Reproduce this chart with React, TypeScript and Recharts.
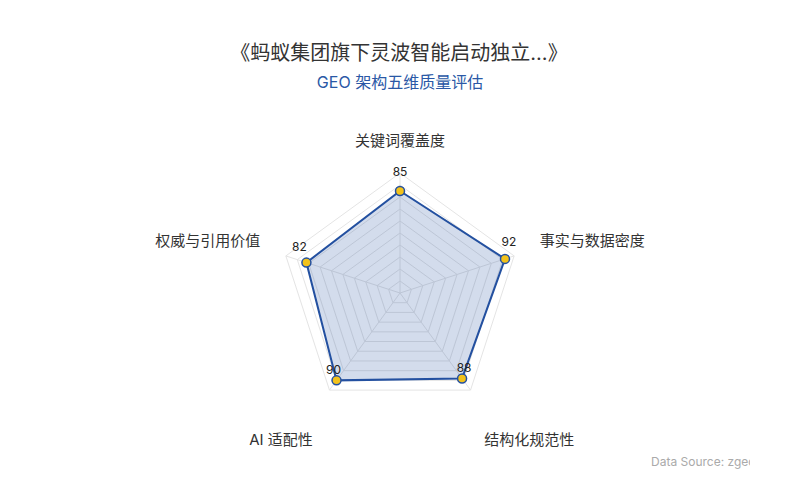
import React from 'react';
import { RadarChart, Radar, PolarGrid, PolarAngleAxis, PolarRadiusAxis, LabelList } from 'recharts';

const TITLE = '《蚂蚁集团旗下灵波智能启动独立...》';
const SUBTITLE = 'GEO 架构五维质量评估';
const SOURCE = 'Data Source: zgeo.ai';

const dimensions = ['关键词覆盖度', '事实与数据密度', '结构化规范性', 'AI 适配性', '权威与引用价值'];
const scores = [85, 92, 88, 90, 82];
const maxScore = 100;
const gridLevels = [10, 20, 30, 40, 50, 60, 70, 80, 90, 100];

const data = dimensions.map((d, i) => ({ dim: d, score: scores[i] }));

const FONT = "Inter, 'Noto Sans CJK SC', 'Noto Sans', sans-serif";
const CX = 400;
const CY = 293;
const R = 120;

// label placement tweaks (style only)
const tickOffsets = [
  { dx: 0, dy: -25, anchor: 'middle' },
  { dx: 18, dy: -13, anchor: 'start' },
  { dx: 9, dy: 43, anchor: 'start' },
  { dx: -12, dy: 43, anchor: 'end' },
  { dx: -18, dy: -13, anchor: 'end' },
];
const valueOffsets = [
  { dx: 0, dy: -20 },
  { dx: 4, dy: -17 },
  { dx: 2, dy: -11 },
  { dx: -3, dy: -11 },
  { dx: -7, dy: -16 },
];

const AngleTick = (props: any) => {
  const { x, y, payload, index } = props;
  const o = tickOffsets[index] || { dx: 0, dy: 0, anchor: 'middle' };
  return (
    <text
      x={x + o.dx}
      y={y + o.dy}
      textAnchor={o.anchor}
      dominantBaseline="central"
      fill="#333"
      fontSize={15}
      fontFamily={FONT}
    >
      {payload.value}
    </text>
  );
};

const ValueLabel = (props: any) => {
  const { x, y, value, index } = props;
  const o = valueOffsets[index] || { dx: 0, dy: -14 };
  return (
    <text
      x={x + o.dx}
      y={y + o.dy}
      textAnchor="middle"
      dominantBaseline="central"
      fill="#222"
      fontSize={12}
      fontFamily={FONT}
    >
      {value}
    </text>
  );
};

export default function App() {
  const radii = gridLevels.map((l) => (l / maxScore) * R);
  return (
    <div style={{ position: 'absolute', left: 0, top: 0, width: 800, height: 500, background: '#fff', fontFamily: FONT }}>
      <div style={{ position: 'absolute', left: 0, top: 40, width: 798, textAlign: 'center', fontSize: 20, color: '#333', lineHeight: '26px' }}>
        {TITLE}
      </div>
      <div style={{ position: 'absolute', left: 0, top: 72, width: 800, textAlign: 'center', fontSize: 16, color: '#2a58a6', lineHeight: '20px' }}>
        {SUBTITLE}
      </div>
      <RadarChart width={800} height={500} data={data} cx={CX} cy={CY} outerRadius={R} margin={{ top: 0, right: 0, bottom: 0, left: 0 }}>
        <PolarGrid gridType="polygon" polarRadius={radii} stroke="#e4e4e4" strokeWidth={1} />
        <PolarAngleAxis dataKey="dim" tick={<AngleTick />} tickLine={false} axisLine={false} />
        <PolarRadiusAxis domain={[0, maxScore]} tick={false} axisLine={false} tickCount={11} />
        <Radar
          dataKey="score"
          stroke="#2350a0"
          strokeWidth={2}
          fill="#2350a0"
          fillOpacity={0.2}
          dot={{ r: 4.5, fill: '#f2c21b', stroke: '#2350a0', strokeWidth: 1.5, fillOpacity: 1 }}
          isAnimationActive={false}
        >
          <LabelList dataKey="score" content={<ValueLabel />} />
        </Radar>
      </RadarChart>
      <div style={{ position: 'absolute', left: 651, top: 454, width: 99, overflow: 'hidden', whiteSpace: 'nowrap', fontSize: 12, color: '#aaa', lineHeight: '16px' }}>
        {SOURCE}
      </div>
    </div>
  );
}
